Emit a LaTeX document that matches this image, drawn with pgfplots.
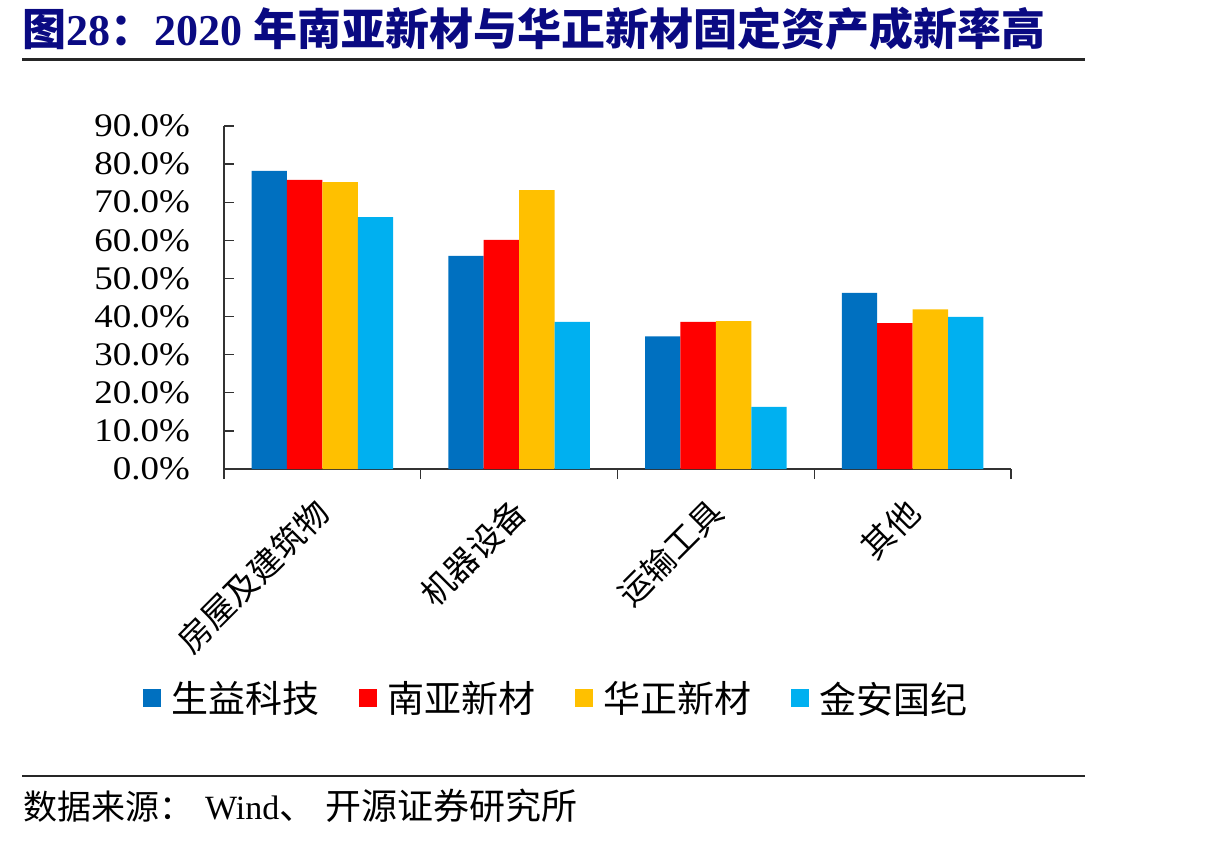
\documentclass[border=0pt]{standalone}
\usepackage{fontspec}
\setmainfont{Liberation Serif}
\newfontfamily\cjk{Noto Sans CJK SC}
\newfontfamily\tickfont[FakeStretch=1.12]{Liberation Serif}
\usepackage{pgfplots}
\pgfplotsset{compat=1.18}
\definecolor{c1}{HTML}{0070C0}
\definecolor{c2}{HTML}{FF0000}
\definecolor{c3}{HTML}{FFC000}
\definecolor{c4}{HTML}{00B0F0}
\definecolor{titleblue}{RGB}{10,10,130}
\definecolor{axisgray}{RGB}{50,50,50}
\begin{document}
\begin{tikzpicture}
\useasboundingbox (0pt,0pt) rectangle (1210pt,-844pt);
% title
\node[anchor=base west, inner sep=0pt, text=titleblue] at (22pt,-45pt)
  {\fontsize{44}{52}\selectfont\bfseries{\cjk 图}28{\cjk ：}2020 {\cjk 年南亚新材与华正新材固定资产成新率高}};
\draw[line width=2.5pt, black!85] (22pt,-59.5pt) -- (1085pt,-59.5pt);
\draw[line width=2.5pt, black!85] (22pt,-776pt) -- (1085pt,-776pt);
\node[anchor=base west, inner sep=0pt] at (23pt,-819pt)
  {\fontsize{34}{40}\selectfont{\cjk 数据来源：}\hspace{12pt}Wind{\fontsize{36}{40}\selectfont\cjk 、\hspace{10pt}开源证券研究所}};
\begin{axis}[
  at={(224pt,-469pt)}, anchor=south west,
  scale only axis, width=787pt, height=343pt,
  xmin=-0.5, xmax=3.5, ymin=0, ymax=0.9,
  axis x line*=bottom, axis y line*=left,
  axis line style={line width=1.4pt, axisgray},
  tick style={line width=1.4pt, axisgray},
  tick align=inside, major tick length=10pt,
  ytick={0,0.1,0.2,0.3,0.4,0.5,0.6,0.7,0.8,0.9},
  yticklabels={0.0\%,10.0\%,20.0\%,30.0\%,40.0\%,50.0\%,60.0\%,70.0\%,80.0\%,90.0\%},
  yticklabel style={font=\tickfont\fontsize{33}{38}\selectfont, inner sep=0pt, anchor=east, xshift=-34pt},
  xtick={-0.5,0.5,1.5,2.5,3.5}, xticklabels={},
  extra x ticks={0,1,2,3},
  extra x tick labels={{\cjk 房屋及建筑物},{\cjk 机器设备},{\cjk 运输工具},{\cjk 其他}},
  extra x tick style={major tick length=0pt,
    xticklabel style={font=\fontsize{33}{40}\selectfont, xshift=1pt, yshift=-37pt, rotate=45, anchor=east, inner sep=0pt}},
  ybar=0pt, bar width=0.18,
  every axis plot/.append style={draw=none},
  legend columns=4,
  legend style={draw=none, fill=none, at={(0.4206,-0.668)}, anchor=center,
    font=\cjk\fontsize{37}{42}\selectfont,
    nodes={inner sep=0pt},
    /tikz/every odd column/.append style={column sep=10pt},
    /tikz/every even column/.append style={column sep=40pt}},
  legend image code/.code={\fill[#1] (0pt,-9pt) rectangle (18pt,9pt);},
]
\addplot[fill=c1] coordinates {(0,0.782) (1,0.559) (2,0.348) (3,0.462)};
\addplot[fill=c2] coordinates {(0,0.759) (1,0.601) (2,0.386) (3,0.383)};
\addplot[fill=c3] coordinates {(0,0.753) (1,0.732) (2,0.388) (3,0.419)};
\addplot[fill=c4] coordinates {(0,0.661) (1,0.386) (2,0.163) (3,0.399)};
\legend{生益科技,南亚新材,华正新材,金安国纪}
\end{axis}
\end{tikzpicture}
\end{document}
